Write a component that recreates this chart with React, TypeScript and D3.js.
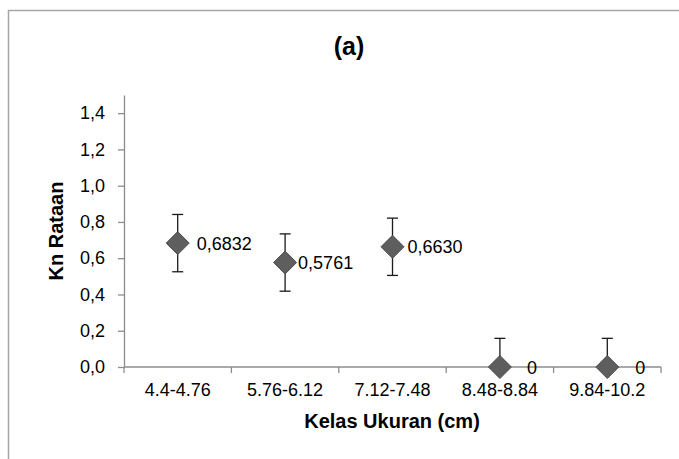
import { useEffect, useRef } from 'react'
import * as d3 from 'd3'

const categories = ['4.4-4.76', '5.76-6.12', '7.12-7.48', '8.48-8.84', '9.84-10.2']
const knValues = [0.6832, 0.5761, 0.663, 0, 0]
const errValues = [0.158, 0.158, 0.158, 0.158, 0.158]
const labels = ['0,6832', '0,5761', '0,6630', '0', '0']
const yTicks = [0, 0.2, 0.4, 0.6, 0.8, 1.0, 1.2, 1.4]

// label nudges to the right of each marker, as placed in the original
const labelDx = [19, 13, 15, 27, 28]

const W = 679
const H = 459
const margin = { top: 95, right: 18, bottom: 92, left: 124 }

const App = () => {
  const ref = useRef<SVGSVGElement>(null)

  useEffect(() => {
    const svg = d3.select(ref.current)
    svg.selectAll('*').remove()

    const font = 'Arial, "Liberation Sans", sans-serif'
    const x = d3
      .scaleBand()
      .domain(categories)
      .range([margin.left, W - margin.right])
    const y = d3
      .scaleLinear()
      .domain([0, 1.5])
      .range([H - margin.bottom, margin.top])

    // outer chart border (only top and left are inside the picture)
    svg
      .append('rect')
      .attr('x', 8.5)
      .attr('y', 10.5)
      .attr('width', W + 20)
      .attr('height', H + 20)
      .attr('fill', 'white')
      .attr('stroke', '#a6a6a6')
      .attr('stroke-width', 1.5)

    const clipId = 'plot-clip'
    svg
      .append('clipPath')
      .attr('id', clipId)
      .append('rect')
      .attr('x', margin.left)
      .attr('y', margin.top)
      .attr('width', W - margin.left - margin.right)
      .attr('height', H - margin.top - margin.bottom)

    // y axis
    const yAxis = svg
      .append('g')
      .attr('transform', `translate(${margin.left},0)`)
      .call(
        d3
          .axisLeft(y)
          .tickValues(yTicks)
          .tickSize(6)
          .tickSizeOuter(0)
          .tickPadding(13)
          .tickFormat((d) => d3.format('.1f')(d as number).replace('.', ','))
      )
    yAxis.select('.domain').attr('stroke', '#8c8c8c').attr('stroke-width', 1.3)
    yAxis.selectAll('.tick line').attr('stroke', '#8c8c8c').attr('stroke-width', 1.3)
    yAxis
      .selectAll('.tick text')
      .attr('font-family', font)
      .attr('font-size', 18)
      .attr('fill', '#000')

    // x axis with ticks between categories
    const bounds = categories.map((c) => x(c) as number).concat([W - margin.right])
    const xg = svg.append('g')
    xg.append('line')
      .attr('x1', margin.left)
      .attr('x2', W - margin.right)
      .attr('y1', y(0))
      .attr('y2', y(0))
      .attr('stroke', '#8c8c8c')
      .attr('stroke-width', 1.3)
    xg.selectAll('.xtick')
      .data(bounds)
      .join('line')
      .attr('class', 'xtick')
      .attr('x1', (d) => d)
      .attr('x2', (d) => d)
      .attr('y1', y(0))
      .attr('y2', y(0) + 6)
      .attr('stroke', '#8c8c8c')
      .attr('stroke-width', 1.3)
    xg.selectAll('.xlabel')
      .data(categories)
      .join('text')
      .attr('class', 'xlabel')
      .attr('x', (d) => (x(d) as number) + x.bandwidth() / 2)
      .attr('y', y(0) + 29)
      .attr('text-anchor', 'middle')
      .attr('font-family', font)
      .attr('font-size', 18)
      .text((d) => d)

    // error bars
    const eb = svg.append('g').attr('clip-path', `url(#${clipId})`)
    const cx = (i: number) => (x(categories[i]) as number) + x.bandwidth() / 2
    knValues.forEach((v, i) => {
      const e = errValues[i]
      const g = eb.append('g').attr('stroke', '#1a1a1a').attr('stroke-width', 1.3)
      g.append('line')
        .attr('x1', cx(i))
        .attr('x2', cx(i))
        .attr('y1', y(v + e))
        .attr('y2', y(v - e))
      ;[v + e, v - e].forEach((t) => {
        g.append('line')
          .attr('x1', cx(i) - 5.5)
          .attr('x2', cx(i) + 5.5)
          .attr('y1', y(t))
          .attr('y2', y(t))
      })
    })

    // diamond markers
    const r = 11.5
    svg
      .append('g')
      .selectAll('path')
      .data(knValues)
      .join('path')
      .attr('d', (d, i) => {
        const px = cx(i)
        const py = y(d)
        return `M${px},${py - r}L${px + r},${py}L${px},${py + r}L${px - r},${py}Z`
      })
      .attr('fill', '#5e5e5e')
      .attr('stroke', '#4d4d4d')
      .attr('stroke-width', 1)

    // data labels
    svg
      .append('g')
      .selectAll('text')
      .data(knValues)
      .join('text')
      .attr('x', (d, i) => cx(i) + labelDx[i])
      .attr('y', (d) => y(d) + 6.5)
      .attr('font-family', font)
      .attr('font-size', 18)
      .text((d, i) => labels[i])

    // titles
    svg
      .append('text')
      .attr('x', 349)
      .attr('y', 55)
      .attr('text-anchor', 'middle')
      .attr('font-family', font)
      .attr('font-weight', 'bold')
      .attr('font-size', 25)
      .text('(a)')

    svg
      .append('text')
      .attr('x', 392)
      .attr('y', 428)
      .attr('text-anchor', 'middle')
      .attr('font-family', font)
      .attr('font-weight', 'bold')
      .attr('font-size', 20)
      .text('Kelas Ukuran (cm)')

    svg
      .append('text')
      .attr('transform', `translate(63,${(y(0) + y(1.5)) / 2}) rotate(-90)`)
      .attr('text-anchor', 'middle')
      .attr('font-family', font)
      .attr('font-weight', 'bold')
      .attr('font-size', 20)
      .text('Kn Rataan')
  }, [])

  return (
    <svg
      ref={ref}
      width={W}
      height={H}
      style={{ position: 'absolute', left: 0, top: 0, display: 'block' }}
    />
  )
}

export default App
